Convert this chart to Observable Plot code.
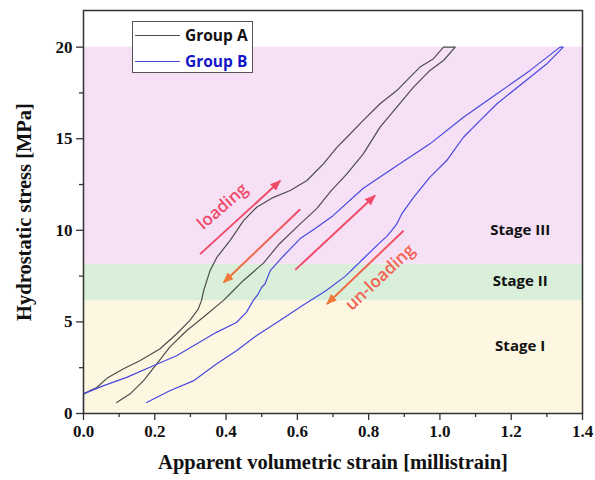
<!DOCTYPE html>
<html>
<head>
<meta charset="utf-8">
<script src="https://cdn.jsdelivr.net/npm/d3@7"></script>
<script src="https://cdn.jsdelivr.net/npm/@observablehq/plot@0.6"></script>
<style>
  body { margin: 0; background: #fff; }
  #wrap { position: relative; width: 595px; height: 480px; }
  #legend { position: absolute; left: 132px; top: 21px; width: 121px; height: 52px;
    border: 1.2px solid #555; background: #fff; box-sizing: border-box;
    font-family: "Open Sans", sans-serif; font-weight: 700; font-size: 15.5px; }
  .lg { position: absolute; left: 2px; height: 22px; display: flex; align-items: center; }
  .lg span.ln { display: inline-block; width: 45px; height: 0; border-top: 1.3px solid; margin-right: 5px; }
</style>
</head>
<body>
<div id="wrap">
  <div id="chart"></div>
  <div id="legend">
    <div class="lg" style="top:2px"><span class="ln" style="border-color:#4d4d4d"></span><span style="color:#111">Group A</span></div>
    <div class="lg" style="top:28px"><span class="ln" style="border-color:#4848e0"></span><span style="color:#1515c8">Group B</span></div>
  </div>
</div>
<script>
// ---- data ----
const groupA_strain = [0, 0.037, 0.069, 0.111, 0.158, 0.214, 0.261, 0.298, 0.322, 0.331, 0.337, 0.355, 0.374, 0.411, 0.449, 0.486, 0.533, 0.580, 0.627, 0.673, 0.711, 0.739, 0.785, 0.832, 0.879, 0.916, 0.944, 0.982, 1.01,
  1.043, 1.01, 0.972, 0.926, 0.879, 0.832, 0.785, 0.739, 0.695, 0.655, 0.608, 0.547, 0.505, 0.448, 0.42, 0.392, 0.336, 0.289, 0.242, 0.205, 0.168, 0.130, 0.093];
const groupA_stress = [1.07, 1.42, 1.97, 2.43, 2.88, 3.52, 4.34, 5.07, 5.70, 6.16, 6.70, 7.80, 8.52, 9.44, 10.53, 11.26, 11.80, 12.17, 12.72, 13.63, 14.53, 15.08, 16.0, 16.91, 17.63, 18.36, 18.91, 19.37, 20.0,
  20.0, 19.27, 18.73, 17.82, 16.73, 15.63, 14.17, 13.08, 12.17, 11.2, 10.35, 9.21, 8.21, 7.25, 6.70, 6.16, 5.25, 4.52, 3.62, 2.70, 1.78, 1.06, 0.6];
const groupB_strain = [0, 0, 0.055, 0.121, 0.196, 0.261, 0.317, 0.373, 0.429, 0.457, 0.476, 0.49, 0.5, 0.509, 0.524, 0.561, 0.608, 0.65, 0.70, 0.785, 0.879, 0.972, 1.066, 1.16, 1.253, 1.337,
  1.346, 1.3, 1.253, 1.16, 1.113, 1.066, 1.019, 0.972, 0.926, 0.893, 0.879, 0.865, 0.851, 0.83, 0.785, 0.735, 0.68, 0.608, 0.552, 0.485, 0.429, 0.373, 0.308, 0.242, 0.177];
const groupB_stress = [0, 1.07, 1.51, 1.97, 2.61, 3.15, 3.79, 4.43, 4.97, 5.52, 6.16, 6.52, 6.89, 7.07, 7.80, 8.6, 9.55, 10.1, 10.8, 12.3, 13.53, 14.72, 16.17, 17.45, 18.73, 20.0,
  20.0, 19.09, 18.36, 16.91, 16.0, 15.08, 13.81, 12.9, 11.80, 10.9, 10.35, 10.0, 9.67, 9.3, 8.45, 7.5, 6.70, 5.82, 5.09, 4.25, 3.43, 2.70, 1.78, 1.24, 0.60];

const stageNames = ["Stage I", "Stage II", "Stage III"];
const stageLow = [0, 6.15, 8.15];
const stageHigh = [6.15, 8.15, 20];
const stageColors = ["#fdf7e2", "#d9efda", "#f6e0f6"];
const stageLabelStrain = [1.225, 1.225, 1.225];
const stageLabelStress = [3.7, 7.2, 10.0];

const arrowKind = ["loading", "unloading", "loading", "unloading"];
const arrowX1 = [0.327, 0.608, 0.594, 0.898];
const arrowY1 = [8.7, 11.15, 7.84, 9.98];
const arrowX2 = [0.552, 0.393, 0.818, 0.683];
const arrowY2 = [12.7, 7.15, 11.9, 5.98];

const annotText = ["loading", "un-loading"];
const annotStrain = [0.39, 0.832];
const annotStress = [11.3, 7.43];

const xTicks = [0, 0.2, 0.4, 0.6, 0.8, 1.0, 1.2, 1.4];
const xMinor = [0.1, 0.3, 0.5, 0.7, 0.9, 1.1, 1.3];
const yTicks = [0, 5, 10, 15, 20];
const yMinor = [2.5, 7.5, 12.5, 17.5];
const xTitle = "Apparent volumetric strain [millistrain]";
const yTitle = "Hydrostatic stress [MPa]";

// ---- tables ----
const A = groupA_strain.map((x, i) => ({x, y: groupA_stress[i]}));
const B = groupB_strain.map((x, i) => ({x, y: groupB_stress[i]}));
const bands = stageNames.map((name, i) => ({name, lo: stageLow[i], hi: stageHigh[i], color: stageColors[i], lx: stageLabelStrain[i], ly: stageLabelStress[i]}));
const arrows = arrowKind.map((k, i) => ({k, x1: arrowX1[i], y1: arrowY1[i], x2: arrowX2[i], y2: arrowY2[i]}));
const annots = annotText.map((t, i) => ({t, x: annotStrain[i], y: annotStress[i]}));

const serif = "'Liberation Serif', 'Times New Roman', serif";
const sans = "'Open Sans', sans-serif";

const plot = Plot.plot({
  width: 595,
  height: 480,
  marginLeft: 83,
  marginRight: 13,
  marginTop: 10,
  marginBottom: 67,
  style: {fontFamily: serif, background: "#fff"},
  x: {domain: [0, 1.4]},
  y: {domain: [0, 22]},
  marks: [
    Plot.rect(bands, {y1: "lo", y2: "hi", fill: "color"}),
    Plot.line(A, {x: "x", y: "y", stroke: "#4d4d4d", strokeWidth: 1.2}),
    Plot.line(B, {x: "x", y: "y", stroke: "#4848e0", strokeWidth: 1.2}),
    Plot.link(arrows.filter(d => d.k === "loading"), {x1: "x1", y1: "y1", x2: "x2", y2: "y2", stroke: "#f04c6a", strokeWidth: 2, ariaLabel: () => "arrow-load"}),
    Plot.link(arrows.filter(d => d.k === "unloading"), {x1: "x1", y1: "y1", x2: "x2", y2: "y2", stroke: "url(#ungrad)", strokeWidth: 2, ariaLabel: () => "arrow-unload"}),
    Plot.text(annots.slice(0, 1), {x: "x", y: "y", text: "t", rotate: -41, fill: "#f04c6a", fontSize: 17, fontWeight: 600, fontFamily: sans}),
    Plot.text(annots.slice(1), {x: "x", y: "y", text: "t", rotate: -43, fill: "#f2604f", fontSize: 17, fontWeight: 600, fontFamily: sans}),
    Plot.text(bands, {x: "lx", y: "ly", text: "name", fontSize: 15, fontWeight: 700, fontFamily: sans, fill: "#111"}),
    Plot.frame({stroke: "#333", strokeWidth: 1.5}),
    Plot.axisX({ticks: xTicks, tickSize: 7, tickPadding: 4, tickFormat: d3.format(".1f"), label: null, fontSize: 17, fontWeight: 700, stroke: "#333", strokeWidth: 1.3, fill: "#111"}),
    Plot.axisX({ticks: xMinor, tickSize: 4, tickFormat: () => "", label: null, stroke: "#333", strokeWidth: 1.3}),
    Plot.axisY({ticks: yTicks, tickSize: 7, tickPadding: 4, tickFormat: d3.format("d"), label: null, fontSize: 17, fontWeight: 700, stroke: "#333", strokeWidth: 1.3, fill: "#111"}),
    Plot.axisY({ticks: yMinor, tickSize: 4, tickFormat: () => "", label: null, stroke: "#333", strokeWidth: 1.3}),
    Plot.text([xTitle], {frameAnchor: "bottom", text: d => d, dy: 55, fontSize: 20.5, fontWeight: 700, fill: "#111"}),
    Plot.text([yTitle], {frameAnchor: "left", textAnchor: "middle", text: d => d, rotate: -90, dx: -59, fontSize: 20.5, fontWeight: 700, fill: "#111"})
  ]
});

// gradient and filled arrowheads
const ns = "http://www.w3.org/2000/svg";
const defs = document.createElementNS(ns, "defs");
defs.innerHTML =
  '<linearGradient id="ungrad" x1="1" y1="0" x2="0" y2="1"><stop offset="0" stop-color="#f04c6a"/><stop offset="1" stop-color="#f07838"/></linearGradient>' +
  '<marker id="headLoad" viewBox="0 0 10 8" refX="9" refY="4" markerWidth="5.5" markerHeight="4.4" orient="auto"><path d="M0,0 L10,4 L0,8 z" fill="#f04c6a"/></marker>' +
  '<marker id="headUnload" viewBox="0 0 10 8" refX="9" refY="4" markerWidth="5.5" markerHeight="4.4" orient="auto"><path d="M0,0 L10,4 L0,8 z" fill="#f07838"/></marker>';
plot.insertBefore(defs, plot.firstChild);
plot.querySelectorAll('[aria-label="arrow-load"]').forEach(el => {
  (el.tagName.toLowerCase() === "path" ? [el] : el.querySelectorAll("path")).forEach(p => p.setAttribute("marker-end", "url(#headLoad)"));
});
plot.querySelectorAll('[aria-label="arrow-unload"]').forEach(el => {
  (el.tagName.toLowerCase() === "path" ? [el] : el.querySelectorAll("path")).forEach(p => p.setAttribute("marker-end", "url(#headUnload)"));
});

document.getElementById("chart").appendChild(plot);
</script>
</body>
</html>
